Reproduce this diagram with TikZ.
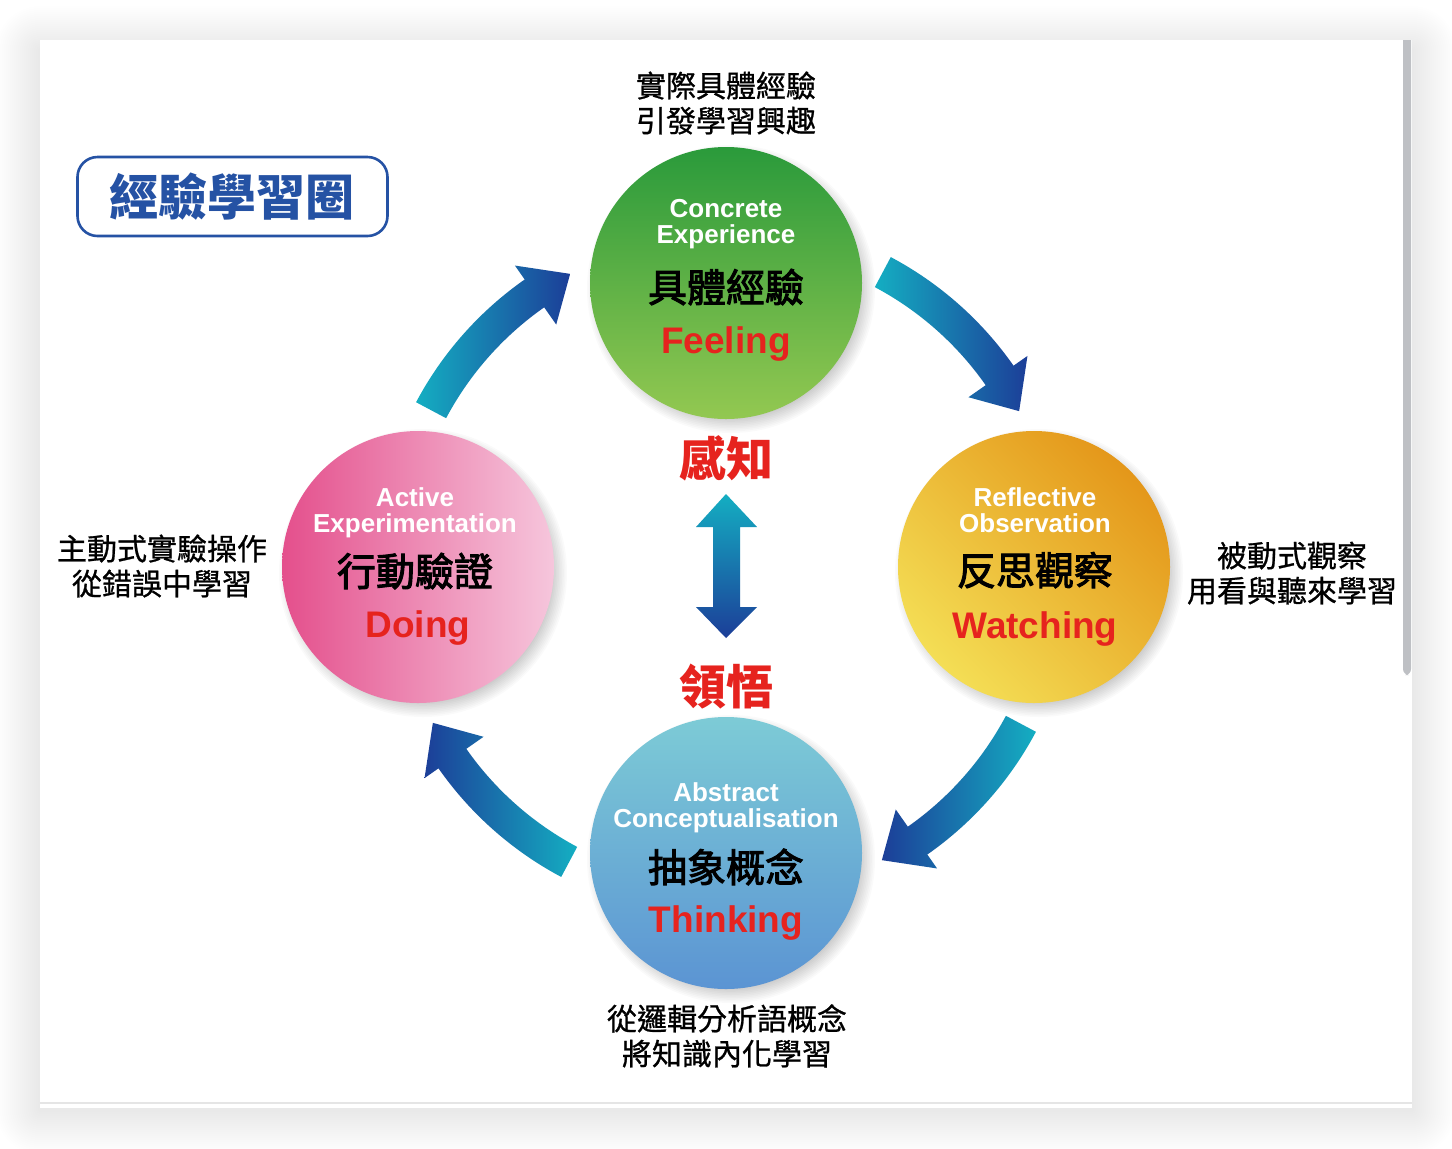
\documentclass[tikz,border=0pt]{standalone}
\usepackage{fontspec}
\setmainfont{Liberation Sans}
\newfontfamily\cjk{Noto Sans CJK TC}
\newfontfamily\cjkm[FakeBold=2.5]{Noto Sans CJK TC}
\newfontfamily\cjkn[FakeBold=0.8]{Noto Sans CJK TC}
\definecolor{gtop}{HTML}{2A9A3B}
\definecolor{gbot}{HTML}{93C851}
\definecolor{pleft}{HTML}{E44F8C}
\definecolor{pright}{HTML}{F6C6DC}
\definecolor{otop}{HTML}{E4971A}
\definecolor{obot}{HTML}{F4DE55}
\definecolor{btop}{HTML}{7DCBD6}
\definecolor{bbot}{HTML}{5B94D3}
\definecolor{acyan}{HTML}{14AEC2}
\definecolor{adark}{HTML}{1C3E98}
\definecolor{kred}{HTML}{E6231E}
\definecolor{tblue}{HTML}{2552A4}
\definecolor{sbar}{HTML}{BEC0C4}
\newcommand\ribbonarrow[2]{%
  \shade[#2] ({#1+34}:351) arc[start angle={#1+34}, end angle={#1+7}, radius=351]
    -- ({#1+7}:368) -- (#1:332) -- ({#1+7}:296) -- ({#1+7}:317)
    arc[start angle={#1+7}, end angle={#1+34}, radius=317] -- cycle;}
\begin{document}
\begin{tikzpicture}[x=0.5pt,y=0.5pt,
  en/.style={text=white,font=\bfseries\fontsize{13}{13}\selectfont,align=center,inner sep=0,anchor=base},
  zh/.style={font=\cjkm\fontsize{19.5}{20}\selectfont,inner sep=0,anchor=base},
  kw/.style={text=kred,font=\bfseries\fontsize{18.5}{20}\selectfont,inner sep=0,anchor=base},
  note/.style={font=\cjkn\fontsize{15}{17.5}\selectfont,align=center,inner sep=0,anchor=base},
  big/.style={font=\cjk\bfseries\fontsize{23.5}{24}\selectfont,text=kred,inner sep=0,anchor=base},
  ball/.style={circle,minimum size=136pt,inner sep=0},
]
\useasboundingbox (0,0) rectangle (1452,-1148);
\fill[white] (0,0) rectangle (1452,-1148);
% card shadow
\foreach \i in {1,...,22}{\fill[black,opacity=0.005,rounded corners=\i pt] ({40-2*\i},{-50+2*\i}) rectangle ({1412+2*\i},{-1110-2*\i});}
% card
\fill[white] (40,-40) rectangle (1412,-1108);
\draw[black!10,line width=1pt] (40,-1102.5) -- (1412,-1102.5);
\fill[sbar] (1403,-40) -- (1411,-40) [rounded corners=3pt] -- (1411,-675) -- (1403,-675) [sharp corners] -- cycle;
% circle shadows
\foreach \cx/\cy in {726/283,1034/567,726/853,418/567}{
  \foreach \i in {1,...,10}{\fill[black,opacity=0.018] ({\cx+5},{-\cy-6}) circle[radius={128+1.6*\i}];}}
% circles
\node[ball,top color=gtop,bottom color=gbot] (ce) at (726,-283) {};
\node[ball,left color=pleft,right color=pright] (ae) at (418,-567) {};
\node[ball,top color=otop,bottom color=obot,shading angle=-45] (ro) at (1034,-567) {};
\node[ball,top color=btop,bottom color=bbot] (ac) at (726,-853) {};
% curved arrows
\begin{scope}[shift={(726,-567)}]
\ribbonarrow{28}{left color=acyan,right color=adark}
\ribbonarrow{118}{left color=acyan,right color=adark}
\ribbonarrow{208}{left color=adark,right color=acyan}
\ribbonarrow{298}{left color=adark,right color=acyan}
\end{scope}
% double arrow
\shade[top color=acyan,bottom color=adark] (726,-494) -- (757,-527) -- (740,-527) -- (740,-607) -- (757,-607) -- (726,-638) -- (696,-607) -- (713,-607) -- (713,-527) -- (696,-527) -- cycle;
% circle texts (anchor base = last line baseline)
\node[en] (ceEn) at (726,-243) {Concrete\\Experience};
\node[zh] (ceZh) at (726,-302) {具體經驗};
\node[kw] (ceKw) at (726,-353) {Feeling};
\node[en] (aeEn) at (415,-532) {Active\\Experimentation};
\node[zh] (aeZh) at (415,-586) {行動驗證};
\node[kw] (aeKw) at (418,-637) {Doing};
\node[en] (roEn) at (1035,-532) {Reflective\\Observation};
\node[zh] (roZh) at (1035,-585) {反思觀察};
\node[kw] (roKw) at (1035,-638) {Watching};
\node[en] (acEn) at (726,-827) {Abstract\\Conceptualisation};
\node[zh] (acZh) at (726,-882) {抽象概念};
\node[kw] (acKw) at (726,-932) {Thinking};
% outer notes
\node[note] (nTop) at (726,-132) {實際具體經驗\\引發學習興趣};
\node[note] (nLeft) at (162,-595) {主動式實驗操作\\從錯誤中學習};
\node[note] (nRight) at (1292,-602) {被動式觀察\\用看與聽來學習};
\node[note] (nBot) at (727,-1065) {從邏輯分析語概念\\將知識內化學習};
% center labels
\node[big] (perc) at (726,-476) {感知};
\node[big] (comp) at (726,-704) {領悟};
% title
\node[draw=tblue,line width=1.3pt,rounded corners=10pt,minimum width=155pt,minimum height=39.5pt,inner sep=0] (tbox) at (232.5,-196.5) {};
\node[font=\cjk\bfseries\fontsize{24.5}{25}\selectfont,text=tblue,inner sep=0,anchor=base] (title) at (232,-215.5) {經驗學習圈};
\end{tikzpicture}
\end{document}
